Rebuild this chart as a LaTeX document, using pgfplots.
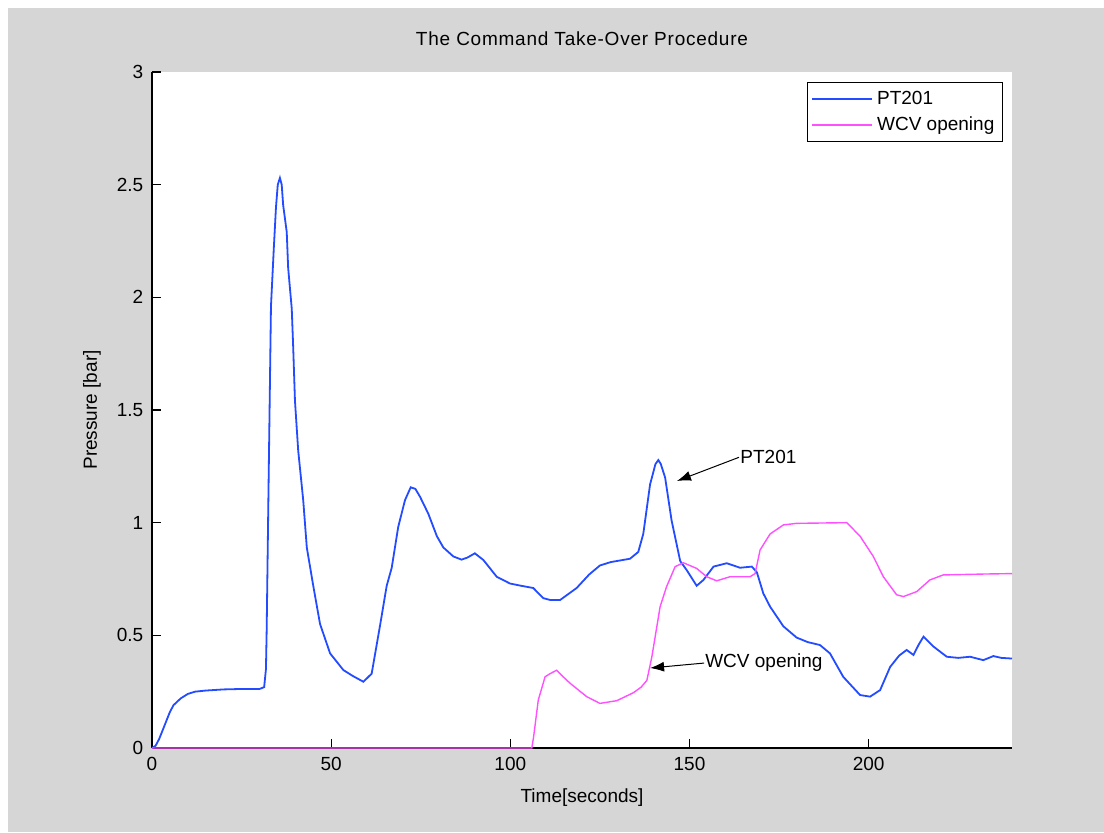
\documentclass[border=0pt]{standalone}
\usepackage{fontspec}
\setmainfont{Liberation Sans}
\usepackage{pgfplots}
\pgfplotsset{compat=1.18}
\usetikzlibrary{arrows.meta}
\definecolor{figbg}{RGB}{214,214,214}
\definecolor{ptblue}{RGB}{35,75,255}
\definecolor{wcvmag}{RGB}{255,80,255}
\begin{document}
\fontsize{9.5}{11}\selectfont
\begin{tikzpicture}
\fill[white] (-76pt,-42pt) rectangle (476pt,374pt);
\fill[figbg] (-72pt,-42pt) rectangle (476pt,370pt);
\begin{axis}[
  at={(0,0)}, anchor=south west,
  scale only axis, width=430pt, height=338pt,
  xmin=0, xmax=240, ymin=0, ymax=3,
  xtick={0,50,100,150,200},
  ytick={0,0.5,1,1.5,2,2.5,3},
  yticklabels={0,0.5,1,1.5,2,2.5,3},
  axis x line*=bottom, axis y line*=left,
  axis line style={line width=0.7pt, black, -},
  tick align=inside,
  major tick length=4.5pt,
  tick style={line width=0.6pt, black},
  axis background/.style={fill=white},
  /pgf/number format/assume math mode=true,
  ticklabel style={font=\fontsize{9.5}{11}\selectfont},
  xticklabel style={yshift=-1pt},
  yticklabel style={xshift=-1pt},
  title={\addfontfeatures{LetterSpace=4}The Command Take-Over Procedure},
  title style={at={(axis description cs:0.5,1)}, anchor=south, yshift=7pt, inner sep=0pt, font=\fontsize{9.5}{11}\selectfont},
  xlabel={Time[seconds]},
  xlabel style={at={(axis description cs:0.5,0)}, anchor=north, yshift=-20pt, inner sep=0pt},
  ylabel={Pressure [bar]},
  ylabel style={at={(axis description cs:0,0.5)}, anchor=center, yshift=30pt, inner sep=0pt},
  clip=false,
  legend style={at={(axis description cs:0.9895,0.985)}, anchor=north east, draw=black, line width=0.6pt, fill=white, font=\fontsize{9.5}{11}\selectfont, inner sep=2pt, row sep=1pt, legend cell align=left},
  legend image post style={line width=0.8pt},
  legend image code/.code={\draw[#1] (0pt,0pt) -- (30pt,0pt);},
]
\addplot[ptblue, line width=0.9pt] coordinates {
(0,0) (1,0.01) (2,0.04) (3,0.08) (4,0.12) (5,0.16) (6,0.19) (8,0.22) (10,0.24) (12,0.25) (15,0.255) (20,0.26) (25,0.262) (30,0.262) (31.3,0.27) (31.8,0.35) (32.0,0.52) (32.5,1.13) (33.2,1.96) (34.0,2.22) (34.6,2.40) (35.1,2.50) (35.7,2.53) (36.2,2.50) (36.6,2.41) (37.6,2.29) (38.0,2.13) (39.0,1.95) (39.4,1.78) (39.9,1.54) (40.8,1.32) (42.2,1.10) (43.2,0.89) (45.0,0.72) (46.9,0.55) (49.7,0.42) (53.4,0.346) (56,0.32) (59.0,0.294) (61.3,0.33) (63.6,0.54) (65.5,0.72) (66.9,0.80) (68.7,0.98) (70.6,1.10) (72.2,1.157) (73.5,1.15) (74.8,1.115) (77.1,1.04) (79.5,0.94) (81.3,0.89) (84.1,0.85) (86.4,0.836) (88,0.845) (90.1,0.864) (92.5,0.834) (96.2,0.76) (99.9,0.73) (103,0.72) (106.4,0.71) (109.2,0.665) (111.1,0.657) (113.9,0.657) (118.5,0.71) (122,0.77) (125.0,0.81) (128,0.825) (133.4,0.84) (135.7,0.87) (137.1,0.95) (139.0,1.17) (140.5,1.26) (141.3,1.278) (142,1.26) (143.2,1.20) (145.0,1.01) (147.4,0.83) (149.2,0.79) (152.0,0.72) (153.9,0.746) (156.7,0.805) (160.4,0.82) (164.1,0.80) (167.4,0.805) (168.8,0.78) (170.6,0.686) (172.5,0.627) (176.2,0.54) (179.9,0.49) (183,0.47) (186.4,0.457) (189.2,0.42) (192.9,0.316) (197.6,0.235) (200.4,0.228) (203.2,0.257) (206.0,0.36) (208.5,0.41) (210.6,0.435) (212.5,0.413) (214,0.46) (215.3,0.494) (218.1,0.45) (221.8,0.405) (225,0.40) (228.3,0.405) (232.0,0.39) (234.8,0.408) (237,0.40) (240,0.397)
};
\addlegendentry{PT201}
\addplot[wcvmag, line width=0.7pt] coordinates {
(0,0) (106,0) (106.5,0.05) (107.8,0.213) (109.7,0.316) (111.1,0.33) (112.9,0.345) (114.5,0.32) (116.7,0.287) (121.3,0.228) (125.0,0.198) (129.7,0.21) (134.3,0.245) (136.5,0.27) (138.1,0.30) (139.5,0.405) (141.8,0.627) (143.6,0.716) (146.0,0.805) (148.3,0.822) (152.0,0.797) (154.8,0.76) (157.6,0.742) (161.3,0.76) (166.9,0.76) (168.3,0.774) (169.7,0.879) (172.5,0.95) (176.2,0.99) (179.9,0.997) (193.9,1.0) (197.6,0.94) (201.3,0.85) (204.1,0.76) (207.8,0.68) (209.7,0.672) (213.4,0.694) (217.1,0.746) (220.8,0.768) (232.0,0.772) (240,0.774)
};
\addlegendentry{WCV opening}
\draw[line width=0.5pt, -{Latex[length=7pt,width=5pt]}] (axis cs:163.8,1.29) -- (axis cs:146.5,1.185);
\node[anchor=west, inner sep=0pt] at (axis cs:164.1,1.29) {PT201};
\draw[line width=0.5pt, -{Latex[length=7pt,width=5pt]}] (axis cs:154.1,0.377) -- (axis cs:139.0,0.355);
\node[anchor=west, inner sep=0pt] at (axis cs:154.3,0.377) {WCV opening};
\end{axis}
\end{tikzpicture}
\end{document}
